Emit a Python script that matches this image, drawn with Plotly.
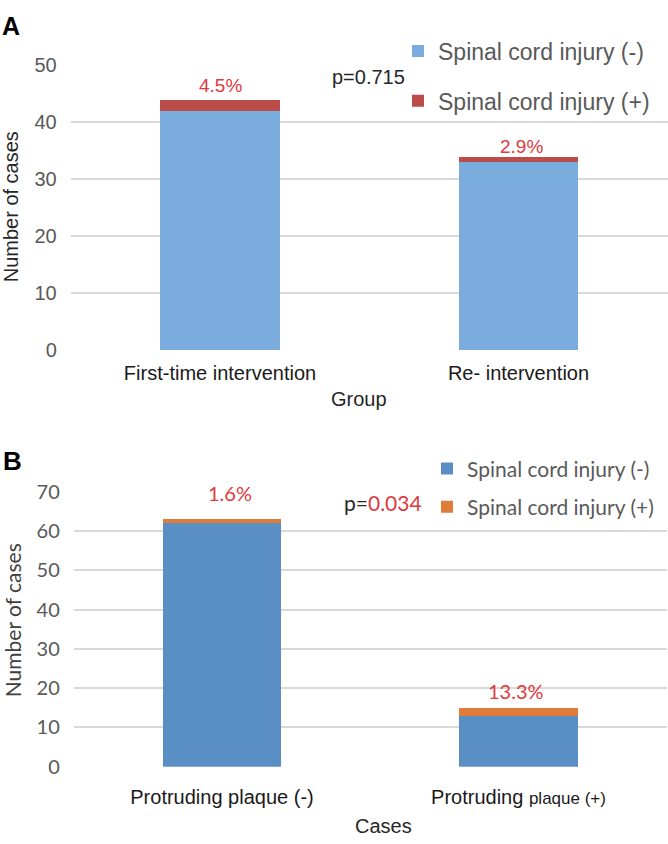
import plotly.graph_objects as go

# ---------------- data ----------------
groups_a = ["First-time intervention", "Re- intervention"]
neg_a = [42, 33]          # Spinal cord injury (-)
pos_a = [2, 1]            # Spinal cord injury (+)
p_value_a = "0.715"

groups_b = ["Protruding plaque (-)", "Protruding plaque (+)"]
neg_b = [62, 13]
pos_b = [1, 2]
p_value_b = "0.034"

series_names = ["Spinal cord injury (-)", "Spinal cord injury (+)"]
yticks_a = [0, 10, 20, 30, 40, 50]
yticks_b = [0, 10, 20, 30, 40, 50, 60, 70]

# ---------------- styling ----------------
W, H = 668, 844
ARIAL = "Liberation Sans, Arial, sans-serif"
CALI = "Lato, Open Sans, sans-serif"
RED = "#DE3A3E"
GRID = "#D9D9D9"
TICKGRAY = "#595959"
col_a = ["#7AADDE", "#BA4D4A"]
col_b = ["#5A8FC6", "#DF7C3A"]
lab_gap_a = [14, 10]
lab_dx_a = [0, 3]
lab_gap_b = [26, 17]
lab_dx_b = [8, -3]


def fx(px):
    return px / W


def fy(py):
    return 1 - py / H


fig = go.Figure()

for vals, name, col, lg in [(neg_a, series_names[0], col_a[0], "a0"),
                            (pos_a, series_names[1], col_a[1], "a1")]:
    fig.add_trace(go.Bar(x=groups_a, y=vals, name=name, marker_color=col,
                         marker_line_width=0, width=0.4, xaxis="x", yaxis="y",
                         legend="legend", legendgroup=lg))
for vals, name, col, lg in [(neg_b, series_names[0], col_b[0], "b0"),
                            (pos_b, series_names[1], col_b[1], "b1")]:
    fig.add_trace(go.Bar(x=groups_b, y=vals, name=name, marker_color=col,
                         marker_line_width=0, width=0.4, xaxis="x2", yaxis="y2",
                         legend="legend2", legendgroup=lg))

ticktext_b = [groups_b[0],
              "Protruding <span style='font-size:17px'>plaque (+)</span>"]

annotations = []
# percentage labels
for i, g in enumerate(groups_a):
    tot = neg_a[i] + pos_a[i]
    annotations.append(dict(x=g, y=tot, xref="x", yref="y", text=f"{pos_a[i] / tot * 100:.1f}%",
                            showarrow=False, yanchor="middle", yshift=lab_gap_a[i], xshift=lab_dx_a[i],
                            font=dict(family=ARIAL, size=19, color=RED)))
for i, g in enumerate(groups_b):
    tot = neg_b[i] + pos_b[i]
    annotations.append(dict(x=g, y=tot, xref="x2", yref="y2", text=f"{pos_b[i] / tot * 100:.1f}%",
                            showarrow=False, yanchor="middle", yshift=lab_gap_b[i], xshift=lab_dx_b[i],
                            font=dict(family=CALI, size=20, color=RED)))

# panel letters, p values, axis titles
annotations += [
    dict(text="<b>A</b>", x=fx(0), y=fy(13), xref="paper", yref="paper", xanchor="left", yanchor="middle",
         showarrow=False, font=dict(family=ARIAL, size=25, color="#000")),
    dict(text="<b>B</b>", x=fx(1), y=fy(461), xref="paper", yref="paper", xanchor="left", yanchor="middle",
         showarrow=False, font=dict(family=ARIAL, size=26, color="#000")),
    dict(text=f"p={p_value_a}", x=fx(330), y=fy(66), xref="paper", yref="paper", xanchor="left",
         yanchor="middle", showarrow=False, font=dict(family=ARIAL, size=20, color="#262626")),
    dict(text=f"p=<span style='color:{RED}'>{p_value_b}</span>", x=fx(342), y=fy(504), xref="paper",
         yref="paper", xanchor="left", yanchor="middle", showarrow=False,
         font=dict(family=CALI, size=21, color="#262626")),
    dict(text="Number of cases", textangle=-90, x=fx(11), y=fy(200), xref="paper", yref="paper",
         xanchor="center", yanchor="middle", showarrow=False, font=dict(family=ARIAL, size=20, color="#262626")),
    dict(text="Number of cases", textangle=-90, x=fx(12), y=fy(625), xref="paper", yref="paper",
         xanchor="center", yanchor="middle", showarrow=False, font=dict(family=CALI, size=21, color="#404040")),
    dict(text="Group", x=fx(359), y=fy(397), xref="paper", yref="paper", xanchor="center", yanchor="middle",
         showarrow=False, font=dict(family=ARIAL, size=20, color="#262626")),
    dict(text="Cases", x=fx(383), y=fy(837), xref="paper", yref="paper", xanchor="center", yanchor="middle",
         showarrow=False, font=dict(family=ARIAL, size=20, color="#262626")),
]

axis_common = dict(showline=False, zeroline=False, ticks="", fixedrange=True)

fig.update_layout(
    width=W, height=H, margin=dict(l=0, r=0, t=0, b=0),
    paper_bgcolor="white", plot_bgcolor="white",
    barmode="stack", bargap=0.6,
    xaxis=dict(domain=[fx(70.75), fx(667.75)], anchor="y", type="category", showgrid=False,
               tickfont=dict(family=ARIAL, size=20, color="#1a1a1a"), ticklabelstandoff=9, **axis_common),
    yaxis=dict(domain=[fy(347.3), fy(54.0)], anchor="x", range=[0, 50], tickvals=yticks_a,
               showgrid=True, gridcolor=GRID, gridwidth=1.5,
               tickfont=dict(family=ARIAL, size=20, color=TICKGRAY), ticklabelstandoff=13, **axis_common),
    xaxis2=dict(domain=[fx(73.75), fx(666.75)], anchor="y2", type="category", showgrid=False,
                tickvals=groups_b, ticktext=ticktext_b,
                tickfont=dict(family=ARIAL, size=20, color="#1a1a1a"), ticklabelstandoff=16, **axis_common),
    yaxis2=dict(domain=[fy(775.7), fy(492.7)], anchor="x2", range=[0, 70], tickvals=yticks_b,
                showgrid=True, gridcolor=GRID, gridwidth=1.5,
                tickfont=dict(family=CALI, size=20, color=TICKGRAY), ticklabelstandoff=13, **axis_common),
    legend=dict(x=fx(398), y=fy(17), xanchor="left", yanchor="top", traceorder="grouped",
                tracegroupgap=17, bgcolor="rgba(0,0,0,0)",
                font=dict(family=ARIAL, size=23, color=TICKGRAY)),
    legend2=dict(x=fx(427), y=fy(448), xanchor="left", yanchor="top", traceorder="grouped",
                 tracegroupgap=8, bgcolor="rgba(0,0,0,0)",
                 font=dict(family=CALI, size=21, color=TICKGRAY)),
    annotations=annotations,
    showlegend=True,
)

fig.write_html(
    "out.html",
    config={"displayModeBar": False},
    post_script="document.body.style.margin='0';document.body.style.overflow='hidden';",
)
